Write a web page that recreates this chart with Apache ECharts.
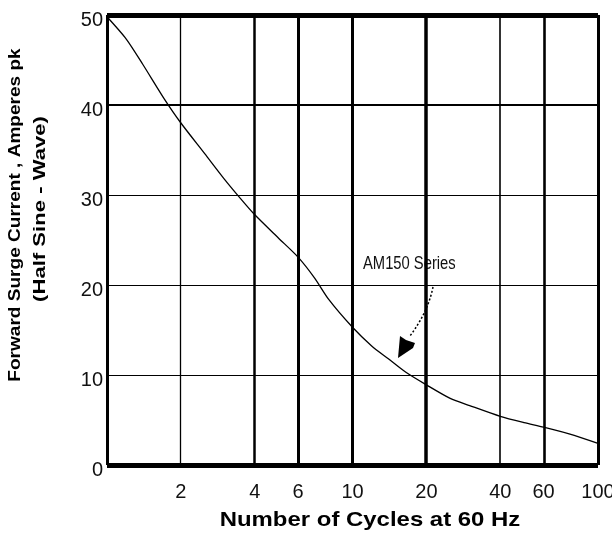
<!DOCTYPE html>
<html>
<head>
<meta charset="utf-8">
<title>Forward Surge Current</title>
<script src="https://cdn.jsdelivr.net/npm/echarts@6/dist/echarts.min.js"></script>
<style>
  html, body { margin: 0; padding: 0; background: #fff; }
  #chart { width: 612px; height: 536px; }
</style>
</head>
<body>
<div id="chart"></div>
<script>
// Surge curve (cycles on a log scale)
const cycles  = [1, 1.2, 1.4, 1.7, 2, 2.5, 3, 3.5, 4, 5, 6, 7, 8, 10, 12, 14, 16.5, 20, 25, 30, 40, 50, 60, 80, 100];
const current = [49.8, 47.3, 44.5, 40.8, 38, 34.6, 31.8, 29.6, 27.8, 25.2, 23.1, 20.8, 18.4, 15.3, 13.2, 11.8, 10.3, 8.9, 7.4, 6.6, 5.4, 4.7, 4.2, 3.3, 2.4];

// tick labels
const xTicks = [2, 4, 6, 10, 20, 40, 60, 100];
const yTicks = [0, 10, 20, 30, 40, 50];

// grid line weights (hand drawn in the original)
const xGridWidths = { 2: 1.3, 4: 2.5, 6: 3, 10: 3, 20: 3.5, 40: 1.6, 60: 2.6 };
const yGridWidths = { 10: 1.2, 20: 1.2, 30: 1.2, 40: 2.2 };

const chart = echarts.init(document.getElementById('chart'));

const lg = v => Math.log10(v);
const seriesData = cycles.map((c, i) => [lg(c), current[i]]);

const gridLines = [];
Object.keys(xGridWidths).forEach(k => {
    gridLines.push({ xAxis: lg(+k), lineStyle: { width: xGridWidths[k] } });
});
Object.keys(yGridWidths).forEach(k => {
    gridLines.push({ yAxis: +k, lineStyle: { width: yGridWidths[k] } });
});
// frame
gridLines.push({ yAxis: 50, lineStyle: { width: 5 } });
gridLines.push({ yAxis: 0, lineStyle: { width: 5 } });
gridLines.push({ xAxis: 0, lineStyle: { width: 3 } });
gridLines.push({ xAxis: 2, lineStyle: { width: 3 } });

const font = 'Liberation Sans, Arial, sans-serif';

const option = {
    animation: false,
    backgroundColor: '#fff',
    grid: { left: 107, right: 14, top: 15, bottom: 71, outerBoundsMode: 'none', containLabel: false },
    xAxis: {
        type: 'value',
        min: 0,
        max: 2,
        axisLine: { show: false },
        axisTick: { show: false },
        splitLine: { show: false },
        axisLabel: {
            customValues: xTicks.map(lg),
            formatter: v => {
                const n = Math.round(Math.pow(10, v));
                return n === 100 ? '{up|100}' : String(n);
            },
            rich: { up: { fontSize: 20, fontFamily: font, color: '#111', padding: [0, 0, 9, 0] } },
            color: '#111',
            fontFamily: font,
            fontSize: 20,
            margin: 17
        }
    },
    yAxis: {
        type: 'value',
        min: 0,
        max: 50,
        interval: 10,
        axisLine: { show: false },
        axisTick: { show: false },
        splitLine: { show: false },
        axisLabel: {
            customValues: yTicks,
            color: '#111',
            fontFamily: font,
            fontSize: 20,
            lineHeight: 10,
            verticalAlign: 'top',
            margin: 4
        }
    },
    series: [{
        type: 'line',
        data: seriesData,
        smooth: 0.25,
        symbol: 'none',
        lineStyle: { color: '#000', width: 1.3 },
        z: 5,
        markLine: {
            silent: true,
            symbol: ['none', 'none'],
            label: { show: false },
            lineStyle: { color: '#000', type: 'solid' },
            data: gridLines,
            z: 3
        }
    }],
    graphic: [
        {
            type: 'text',
            x: 363, y: 264, scaleX: 0.82,
            style: { text: 'AM150 Series', fill: '#111', font: '18px ' + font, verticalAlign: 'middle' }
        },
        {
            type: 'bezierCurve',
            shape: { x1: 433, y1: 287, cpx1: 428, cpy1: 312, x2: 410, y2: 336 },
            style: { stroke: '#000', lineWidth: 1.5, lineDash: [2, 2], fill: null }
        },
        {
            type: 'polygon',
            shape: { points: [[398, 358], [400, 336], [406, 340], [415, 343], [413, 348]] },
            style: { fill: '#000' }
        },
        {
            type: 'text',
            x: 370, y: 520, scaleX: 1.14,
            style: {
                text: 'Number of Cycles at 60 Hz', fill: '#000',
                font: 'bold 21px ' + font, align: 'center', verticalAlign: 'middle'
            }
        },
        {
            type: 'text',
            x: 15, y: 215, rotation: Math.PI / 2, scaleX: 1.12,
            style: {
                text: 'Forward Surge Current , Amperes pk',
                fill: '#000', font: 'bold 17px ' + font,
                align: 'center', verticalAlign: 'middle'
            }
        },
        {
            type: 'text',
            x: 40, y: 209, rotation: Math.PI / 2, scaleX: 1.3,
            style: {
                text: '(Half Sine - Wave)',
                fill: '#000', font: 'bold 17px ' + font,
                align: 'center', verticalAlign: 'middle'
            }
        }
    ]
};

chart.setOption(option);
</script>
</body>
</html>
